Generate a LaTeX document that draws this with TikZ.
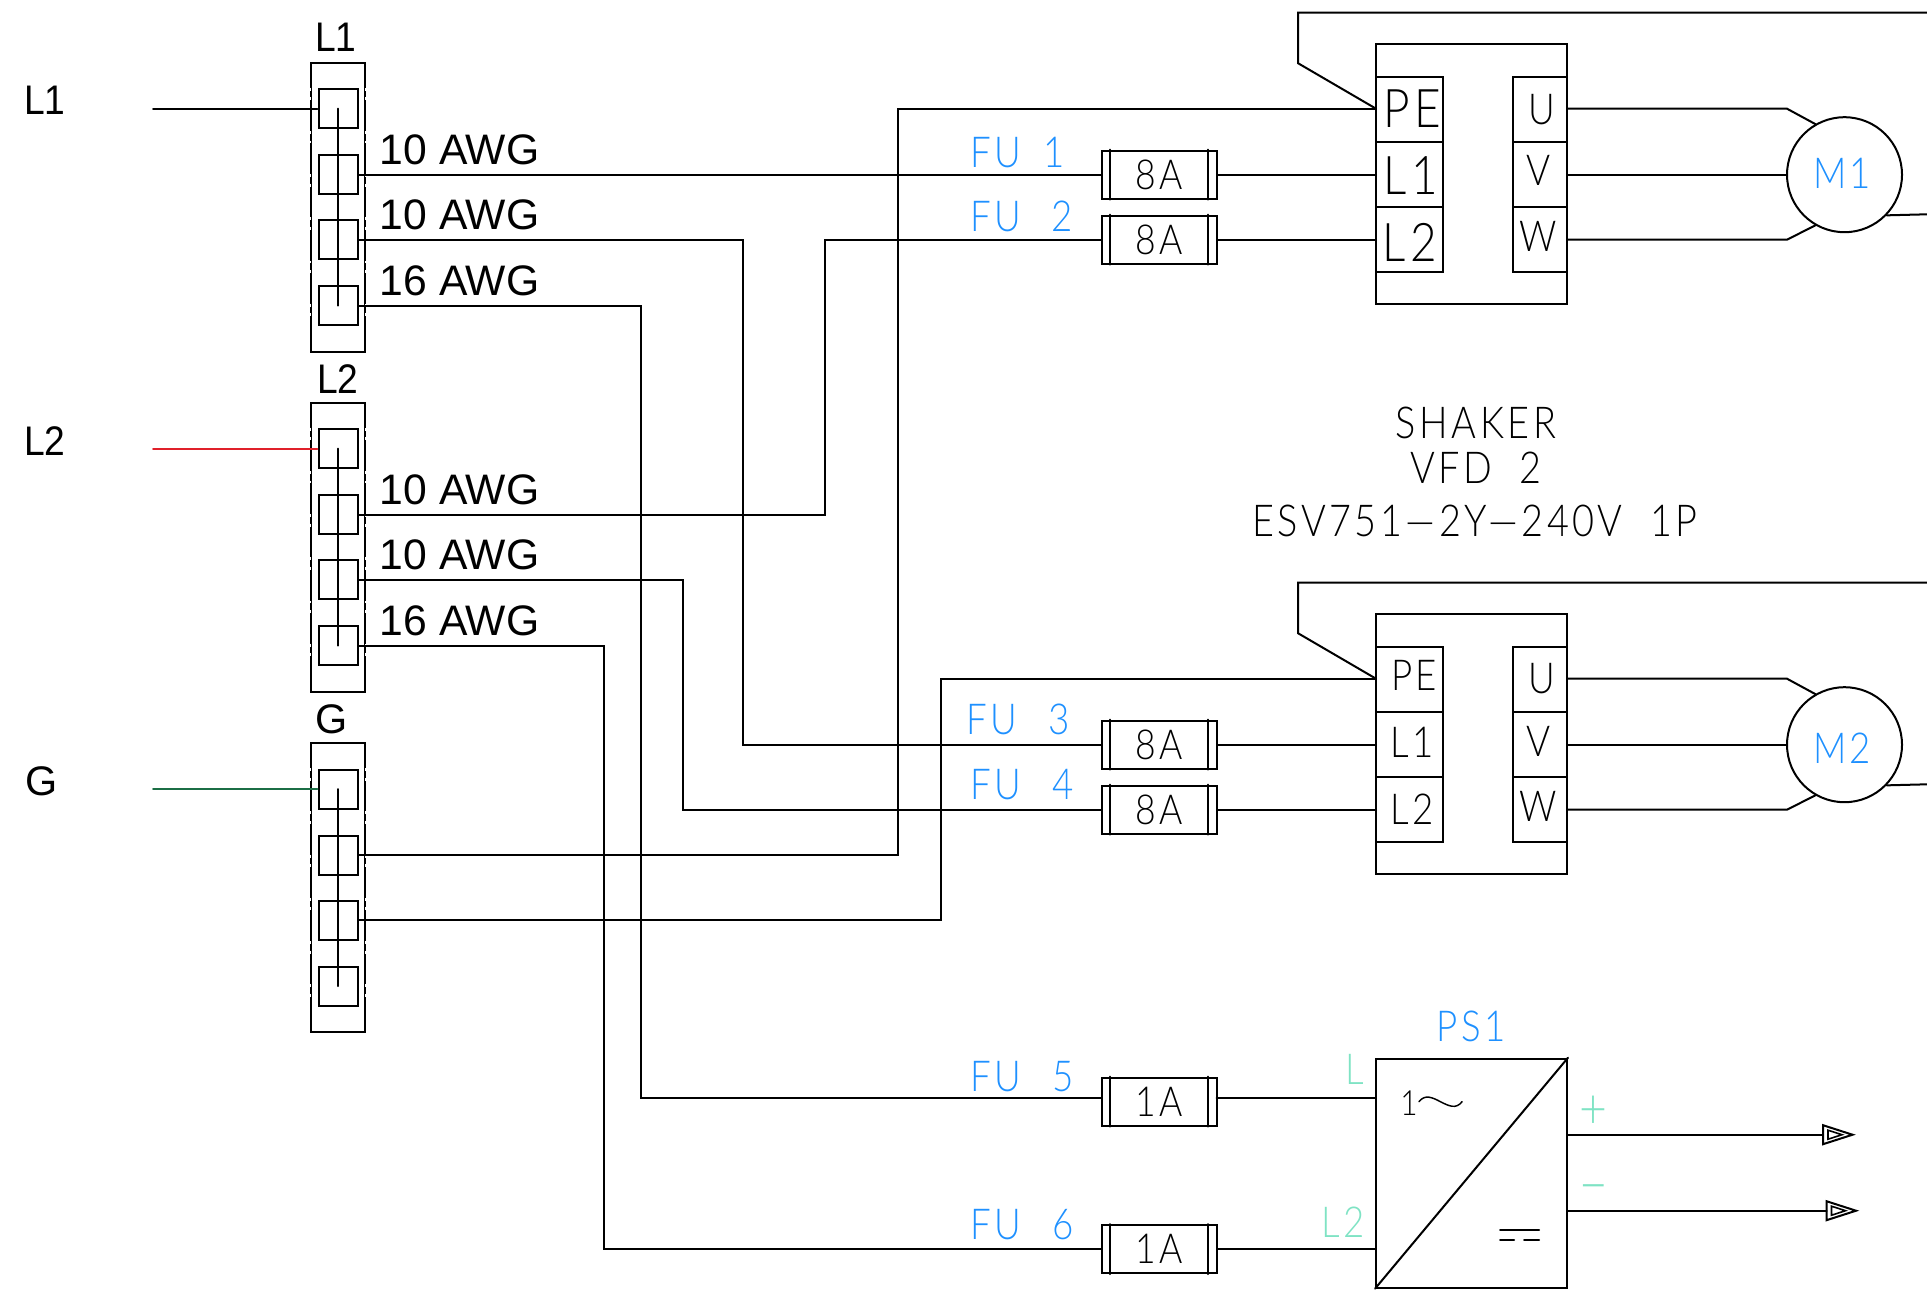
\documentclass[tikz,border=0pt]{standalone}
\usepackage{fontspec}
\setmainfont{Liberation Sans}
\newfontfamily\arialnarrow[FakeStretch=0.9]{Liberation Sans}
\newfontfamily\cadfont[FakeStretch=0.86,LetterSpace=8]{Lato Light}
\definecolor{cadblue}{HTML}{1E90FF}
\definecolor{cadmint}{HTML}{7FE3C4}
\definecolor{wiregreen}{HTML}{1B6E45}
\definecolor{wirered}{HTML}{E0202A}
\def\px{0.75pt}
\newcommand{\cadsize}[1]{\cadfont\fontsize{#1}{#1}\selectfont}
\tikzset{
  wire/.style={line width=1.5pt,line cap=round,line join=miter,black},
  thinwire/.style={line width=1.4pt,line cap=round},
  termbox/.style={draw,line width=1.5pt,minimum width=39*\px,minimum height=39*\px,inner sep=0pt},
  stripbox/.style={draw,line width=1.5pt,minimum width=54*\px,minimum height=289*\px,inner sep=0pt},
  stripgap/.style={white,line width=2pt,dash pattern=on 2.2pt off 5pt on 2.2pt off 23pt},
  fusebox/.style={draw,line width=1.5pt,minimum width=115*\px,minimum height=48*\px,inner sep=0pt,font=\cadsize{31}},
  vfdbox/.style={draw,line width=1.5pt,minimum width=191*\px,minimum height=260*\px,inner sep=0pt},
  lterm/.style={draw,line width=1.5pt,minimum width=67*\px,minimum height=65*\px,inner sep=0pt},
  rterm/.style={draw,line width=1.5pt,minimum width=54*\px,minimum height=65*\px,inner sep=0pt},
  psbox/.style={draw,line width=1.5pt,minimum width=191*\px,minimum height=229*\px,inner sep=0pt},
  motor/.style={circle,draw,line width=1.5pt,minimum size=115*\px,inner sep=0pt},
  arial/.style={inner sep=0pt,font=\fontsize{31}{31}\selectfont},
  arialn/.style={inner sep=0pt,font=\arialnarrow\fontsize{31}{31}\selectfont},
  awg/.style={inner sep=0pt,anchor=west,font=\fontsize{32}{32}\selectfont},
  cadlbl/.style={inner sep=0pt,font=\cadsize{32}},
  bluelbl/.style={cadlbl,text=cadblue},
  mintlbl/.style={cadlbl,text=cadmint},
  blacklbl/.style={cadlbl,text=black},
}
\newcommand{\termstrip}[2]{%
  \node[stripbox] (#1box) at (338,{206.5+#2}) {};
  \foreach \k/\yy in {1/108,2/174,3/239,4/305}{
    \node[termbox] (#1t\k) at (338,{\yy+#2}) {};
  }
  \draw[stripgap] ([yshift=-26*\px]#1box.north west) -- ([yshift=26*\px]#1box.south west);
  \draw[stripgap] ([yshift=-26*\px]#1box.north east) -- ([yshift=26*\px]#1box.south east);
  \draw[wire] (#1t1.center) -- (#1t4.center);
}
\newcommand{\fusecell}[3]{%
  \node[fusebox] (#1) at (1159,#2) {#3};
  \draw[wire] ([xshift=9.5*\px]#1.north west) -- ([xshift=9.5*\px]#1.south west);
  \draw[wire] ([xshift=-9.5*\px]#1.north east) -- ([xshift=-9.5*\px]#1.south east);
}
\newcommand{\vfdunit}[2]{%
  \node[vfdbox] (#1box) at (1471.5,{173+#2}) {};
  \node[lterm] (#1pe) at (1409.5,{108.5+#2}) {};
  \node[lterm] (#1la) at (1409.5,{173.5+#2}) {};
  \node[lterm] (#1lb) at (1409.5,{238.5+#2}) {};
  \node[rterm] (#1u) at (1540,{108.5+#2}) {};
  \node[rterm] (#1v) at (1540,{173.5+#2}) {};
  \node[rterm] (#1w) at (1540,{238.5+#2}) {};
  \coordinate (#1ku) at (1787,{108+#2});
  \coordinate (#1kv) at (1787,{174+#2});
  \coordinate (#1kw) at (1787,{239+#2});
  \coordinate (#1pin) at (1376,{108+#2});
  \coordinate (#1ain) at (1376,{174+#2});
  \coordinate (#1bin) at (1376,{239+#2});
  \coordinate (#1g1) at (1298,{62.5+#2});
  \coordinate (#1g0) at (1298,{12+#2});
  \coordinate (#1gr) at (1927,{12+#2});
  \coordinate (#1mr) at (1927,{213.6+#2});
  \node[motor] (#1m) at (1844.5,{174+#2}) {};
  \draw[wire] (#1gr) -- (#1g0) -- (#1g1) -- (#1pin);
  \draw[wire] (#1u.east |- #1ku) -- (#1ku) -- (#1m.120);
  \draw[wire] (#1v.east |- #1kv) -- (#1m.west |- #1kv);
  \draw[wire] (#1w.east |- #1kw) -- (#1kw) -- (#1m.240);
  \draw[wire] (#1mr) -- (#1m.-44);
}
\begin{document}
\begin{tikzpicture}[x=\px,y=-\px]
\useasboundingbox (0,-0.7) rectangle (1927,1299.3);
% strips
\termstrip{a}{0}
\termstrip{b}{340}
\termstrip{c}{680.5}
\node[arialn] (lblstripa) at (336,37) {L1};
\node[arialn] (lblstripb) at (338,378.5) {L2};
\node[arial] (lblstripc) at (332,719) {G};
\node[arialn,anchor=west] (lblinl1) at (24,100) {L1};
\node[arialn,anchor=west] (lblinl2) at (24,440) {L2};
\node[arial,anchor=west] (lblinlg) at (25,781) {G};
\coordinate (ina) at (153,108);
\coordinate (inb) at (153,448);
\coordinate (inc) at (153,788.5);
\draw[thinwire,black] (ina) -- (at1.west);
\draw[thinwire,wirered] (inb) -- (bt1.west);
\draw[thinwire,wiregreen] (inc) -- (ct1.west);
\foreach \nm/\yy/\tx in {aw1/149/10 AWG,aw2/214/10 AWG,aw3/280/16 AWG,aw4/489.5/10 AWG,aw5/554/10 AWG,aw6/620/16 AWG}{
  \node[awg] (\nm) at (379.5,\yy) {\tx};
}
% fuses
\fusecell{fa}{174}{8A}
\fusecell{fb}{239}{8A}
\fusecell{fc}{744}{8A}
\fusecell{fd}{809}{8A}
\fusecell{fe}{1101}{1A}
\fusecell{ff}{1248.5}{1A}
\coordinate (fein) at (1101.5,1097);
\coordinate (feout) at (1216.5,1097);
\foreach \nm/\xx/\yy/\ww/\dg in {lfa/970/152/71/1,lfb/970/215.5/77/2,lfc/966/719/78/3,lfd/970/784/78/4,lfe/970/1075.5/78/5,lff/970/1224/78/6}{
  \node[bluelbl,anchor=west] (\nm) at (\xx,\yy) {\makebox[\ww pt][s]{FU\hfill\dg}};
}
% vfd
\vfdunit{p}{0}
\vfdunit{q}{570}
\node[cadlbl,font=\cadsize{40}] (tpe) at (1412,108) {PE};
\node[cadlbl,font=\cadsize{40}] (tpa) at (1411,175) {L1};
\node[cadlbl,font=\cadsize{40}] (tpb) at (1410,241.5) {L2};
\node[cadlbl] (tqe) at (1414,675) {PE};
\node[cadlbl] (tqa) at (1412,742) {L1};
\node[cadlbl] (tqb) at (1412,808.5) {L2};
\node[cadlbl] (tpu) at (1542,108.5) {U};
\node[cadlbl] (tpv) at (1539,170) {V};
\node[cadlbl] (tpw) at (1538,236) {W};
\node[cadlbl] (tqu) at (1542,678) {U};
\node[cadlbl] (tqv) at (1539,741) {V};
\node[cadlbl] (tqw) at (1538,806) {W};
\node[bluelbl] (tm1) at (1842,172.5) {M1};
\node[bluelbl] (tm2) at (1842,748) {M2};
\node[blacklbl,font=\cadsize{33}] (shk) at (1476,422.5) {SHAKER};
\node[blacklbl,font=\cadsize{33}] (shv) at (1476,467) {VFD\ \ 2};
\node[blacklbl,font=\cadsize{33}] (shm) at (1475,520) {ESV751—2Y—240V\ \ 1P};
% wires
\draw[wire] (at2.east) -- (fa.west);
\draw[wire] (at3.east) -| (743,500) |- (fc.west);
\draw[wire] (at4.east) -| (641,700) |- (fein);
\draw[wire] (bt2.east) -| (825,400) |- (fb.west);
\draw[wire] (bt3.east) -| (683,700) |- (fd.west);
\draw[wire] (bt4.east) -| (604,800) |- (ff.west);
\draw[wire] (ct2.east) -| (898,400) |- (ppin);
\draw[wire] (ct3.east) -| (941,800) |- (qpin);
\draw[wire] (fa.east) -- (pain);
\draw[wire] (fb.east) -- (pbin);
\draw[wire] (fc.east) -- (qain);
\draw[wire] (fd.east) -- (qbin);
% ps1
\node[psbox] (ps) at (1471.5,1172.5) {};
\draw[wire] (ps.south west) -- (ps.north east);
\draw[wire] (feout) -- (ps.west |- feout);
\draw[wire] (ff.east) -- (ps.west |- ff.east);
\node[bluelbl] (lps) at (1471,1026) {PS1};
\node[mintlbl] (lpl) at (1355,1069) {L};
\node[mintlbl] (lpm) at (1343,1222) {L2};
\node[mintlbl,font=\cadsize{42}] (lpp) at (1593,1111.5) {+};
\node[mintlbl,font=\cadsize{46}] (lpn) at (1593.5,1193) {–};
\node[blacklbl,font=\cadsize{26}] (lpac) at (1409,1102) {1};
\coordinate (ta) at (1419,1101);
\coordinate (tb) at (1462,1101);
\draw[wire,line width=1.1pt] (ta) .. controls (1431,1085) and (1450,1117) .. (tb);
\coordinate (da) at (1500,1229);\coordinate (db) at (1539,1229);
\coordinate (dc) at (1500,1239);\coordinate (dd) at (1514,1239);
\coordinate (de) at (1524,1239);\coordinate (df) at (1539,1239);
\draw[wire] (da) -- (db);
\draw[wire] (dc) -- (dd);
\draw[wire] (de) -- (df);
% outputs
\coordinate (oa) at (1823,1134);
\coordinate (ob) at (1826.5,1210);
\draw[wire] (ps.east |- oa) -- (oa);
\draw[wire] (ps.east |- ob) -- (ob);
\foreach \o in {oa,ob}{
  \draw[wire] ([yshift=9.5*\px]\o) -- ([yshift=-9.5*\px]\o) -- ([xshift=29.5*\px]\o) -- cycle;
  \draw[wire,line width=1.2pt] ([xshift=5*\px,yshift=4.5*\px]\o) -- ([xshift=5*\px,yshift=-4.5*\px]\o) -- ([xshift=19*\px]\o) -- cycle;
}
\end{tikzpicture}
\end{document}
